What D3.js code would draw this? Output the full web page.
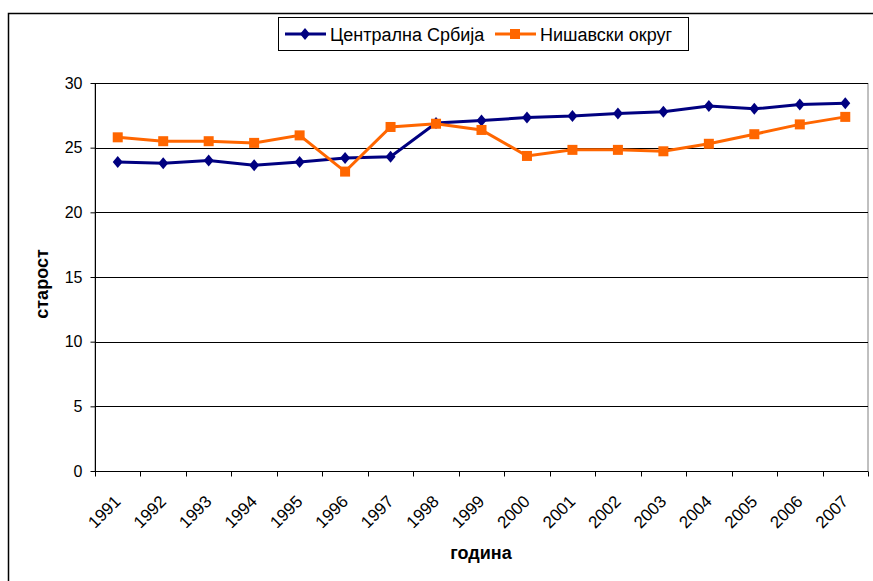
<!DOCTYPE html>
<html><head><meta charset="utf-8">
<script src="https://cdn.jsdelivr.net/npm/d3@7"></script>
<style>body{margin:0;background:#fff}svg{display:block;font-family:"Liberation Sans",Arial,sans-serif}</style>
</head><body>
<script>
const years = ["1991","1992","1993","1994","1995","1996","1997","1998","1999","2000","2001","2002","2003","2004","2005","2006","2007"];
const centralna = [23.9,23.8,24.0,23.65,23.9,24.2,24.3,26.9,27.1,27.33,27.45,27.65,27.77,28.23,28.0,28.33,28.44];
const nisavski = [25.8,25.5,25.5,25.37,25.95,23.15,26.6,26.85,26.37,24.36,24.83,24.83,24.72,25.3,26.04,26.8,27.38];
const yTicks = [0,5,10,15,20,25,30];
const seriesNames = ["Централна Србија","Нишавски округ"];

const W=873,H=581;
const svg=d3.select("body").append("svg").attr("width",W).attr("height",H);
svg.append("rect").attr("x",8.5).attr("y",13.5).attr("width",W).attr("height",H).attr("fill","#fff").attr("stroke","#000").attr("stroke-width",1.5);

const L=95,R=868,T=83,B=471;
const x=d3.scaleBand().domain(years).range([L,R]);
const y=d3.scaleLinear().domain([0,30]).range([B,T]);

// plot area frame (gray top/right)
svg.append("rect").attr("x",L).attr("y",T+0.5).attr("width",R-L).attr("height",B-T).attr("fill","none").attr("stroke","#808080").attr("stroke-width",1);
// gridlines
svg.append("g").selectAll("line").data(yTicks.filter(d=>d>0)).join("line")
  .attr("x1",L).attr("x2",R).attr("y1",d=>Math.round(y(d))+0.5).attr("y2",d=>Math.round(y(d))+0.5)
  .attr("stroke","#000").attr("stroke-width",1);

// y axis
const ya=svg.append("g").attr("transform",`translate(${L+0.5},0)`)
  .call(d3.axisLeft(y).tickValues(yTicks).tickSize(5).tickPadding(8).tickFormat(d3.format("d")));
ya.select(".domain").attr("stroke","#000").attr("d",`M0,${T}V${B}`);
ya.selectAll(".tick line").attr("stroke","#000");
ya.selectAll("text").attr("font-size",16).attr("fill","#000").style("font-family","'Liberation Sans',Arial,sans-serif");

// x axis
const xa=svg.append("g").attr("transform",`translate(0,${B+0.5})`);
xa.append("line").attr("x1",L).attr("x2",R).attr("stroke","#000");
const bounds=years.map(d=>x(d)).concat([x(years[years.length-1])+x.bandwidth()]);
xa.selectAll("line.tk").data(bounds).join("line").attr("class","tk")
  .attr("x1",d=>Math.round(d)+0.5).attr("x2",d=>Math.round(d)+0.5).attr("y1",0).attr("y2",5).attr("stroke","#000");
xa.selectAll("text").data(years).join("text")
  .attr("transform",d=>`translate(${x(d)+x.bandwidth()/2-5},${22}) rotate(-45)`)
  .attr("text-anchor","end").attr("dy","0.75em").attr("font-size",17).text(d=>d);

// lines
const line=d3.line().x((d,i)=>x(years[i])+x.bandwidth()/2).y(d=>y(d));
svg.append("path").datum(centralna).attr("d",line).attr("fill","none").attr("stroke","#000080").attr("stroke-width",3);
svg.append("path").datum(nisavski).attr("d",line).attr("fill","none").attr("stroke","#FF6600").attr("stroke-width",3);
svg.append("g").selectAll("path").data(centralna).join("path")
  .attr("transform",(d,i)=>`translate(${x(years[i])+x.bandwidth()/2},${y(d)})`)
  .attr("d","M0,-6L5,0L0,6L-5,0Z").attr("fill","#000080");
svg.append("g").selectAll("rect").data(nisavski).join("rect")
  .attr("x",(d,i)=>x(years[i])+x.bandwidth()/2-5).attr("y",d=>y(d)-5).attr("width",10).attr("height",10).attr("fill","#FF6600");

// axis titles
svg.append("text").attr("x",481).attr("y",559).attr("text-anchor","middle").attr("font-size",18).attr("font-weight","bold").text("година");
svg.append("text").attr("transform",`translate(48,284) rotate(-90)`).attr("text-anchor","middle").attr("font-size",18).attr("font-weight","bold").text("старост");

// legend
const lg=svg.append("g");
lg.append("rect").attr("x",278.5).attr("y",17.5).attr("width",410).attr("height",33).attr("fill","#fff").attr("stroke","#000");
lg.append("line").attr("x1",285).attr("x2",326).attr("y1",34).attr("y2",34).attr("stroke","#000080").attr("stroke-width",3);
lg.append("path").attr("transform","translate(305,34)").attr("d","M0,-6L5,0L0,6L-5,0Z").attr("fill","#000080");
lg.append("text").attr("x",330).attr("y",40.5).attr("font-size",18).text(seriesNames[0]);
lg.append("line").attr("x1",495).attr("x2",536).attr("y1",34).attr("y2",34).attr("stroke","#FF6600").attr("stroke-width",3);
lg.append("rect").attr("x",510).attr("y",29).attr("width",10).attr("height",10).attr("fill","#FF6600");
lg.append("text").attr("x",540).attr("y",40.5).attr("font-size",18).text(seriesNames[1]);
</script>
</body></html>
